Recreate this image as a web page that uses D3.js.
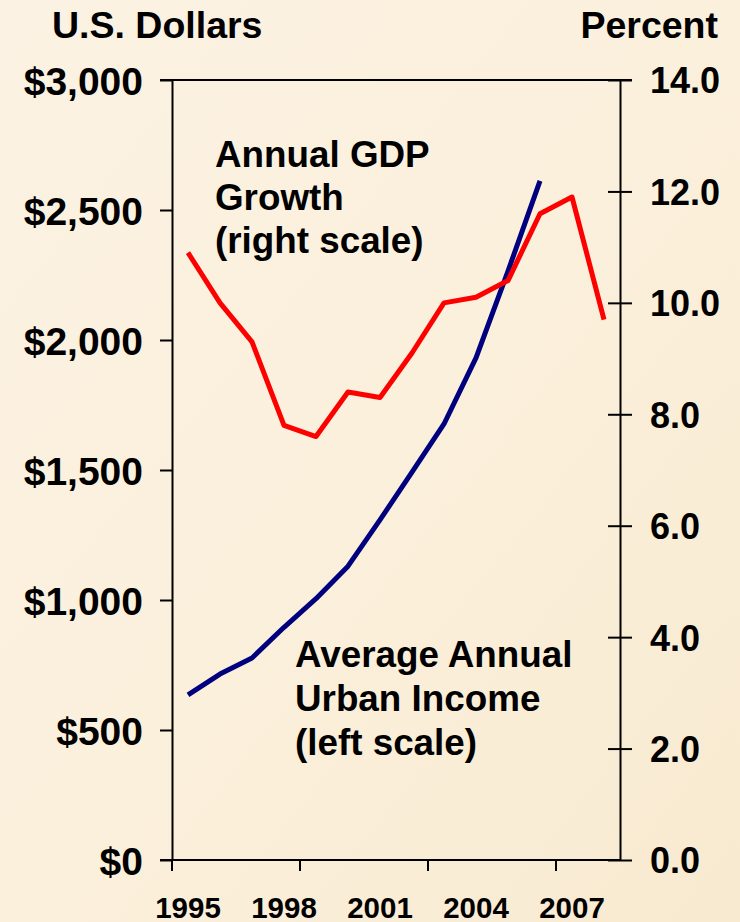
<!DOCTYPE html>
<meta charset="utf-8">
<style>
  body { margin: 0; background: #fbefd9; }
  svg { display: block; }
  text { font-family: "Liberation Sans", Arial, sans-serif; font-weight: bold; fill: #000; }
</style>
<body>
<div id="chart"></div>
<script src="https://d3js.org/d3.v7.min.js"></script>
<script>
  // data
  var years = [1995, 1996, 1997, 1998, 1999, 2000, 2001, 2002, 2003, 2004, 2005, 2006, 2007, 2008];
  var incomeYears = [1995, 1996, 1997, 1998, 1999, 2000, 2001, 2002, 2003, 2004, 2005, 2006];
  var income = [635, 715, 777, 895, 1005, 1130, 1308, 1492, 1677, 1931, 2265, 2612];
  var gdpGrowth = [10.9, 10.0, 9.3, 7.8, 7.6, 8.4, 8.3, 9.1, 10.0, 10.1, 10.4, 11.6, 11.9, 9.7];
  var yearLabels = [1995, 1998, 2001, 2004, 2007];
  var yearTicks = [1995, 1999, 2003, 2007];
  var leftTicks = [0, 500, 1000, 1500, 2000, 2500, 3000];
  var rightTicks = [0, 2, 4, 6, 8, 10, 12, 14];

  var width = 740, height = 922;
  var plotLeft = 172, plotRight = 620, plotTop = 80, plotBottom = 860;

  var svg = d3.select("#chart").append("svg")
    .attr("width", width)
    .attr("height", height);

  var defs = svg.append("defs");
  var grad = defs.append("linearGradient").attr("id", "bg")
    .attr("x1", "0").attr("y1", "0").attr("x2", "1").attr("y2", "1");
  grad.append("stop").attr("offset", "0").attr("stop-color", "#fcf2e3");
  grad.append("stop").attr("offset", "0.5").attr("stop-color", "#fbf0dc");
  grad.append("stop").attr("offset", "1").attr("stop-color", "#f8ead0");
  svg.append("rect").attr("width", width).attr("height", height).attr("fill", "url(#bg)");

  var x = d3.scaleBand().domain(years).range([plotLeft, plotRight]).padding(0);
  var cx = d => x(d) + x.bandwidth() / 2;
  var yL = d3.scaleLinear().domain([0, 3000]).range([plotBottom, plotTop]);
  var yR = d3.scaleLinear().domain([0, 14]).range([plotBottom, plotTop]);

  // plot frame top line
  svg.append("line")
    .attr("x1", plotLeft - 12).attr("x2", plotRight + 12)
    .attr("y1", plotTop).attr("y2", plotTop)
    .attr("stroke", "#000").attr("stroke-width", 2);

  var axL = svg.append("g")
    .attr("transform", "translate(" + plotLeft + ",0)")
    .call(d3.axisLeft(yL).tickValues(leftTicks).tickSizeInner(12).tickSizeOuter(0).tickPadding(17)
      .tickFormat(d => "$" + d3.format(",")(d)));
  axL.selectAll("text").style("font-size", "39px").attr("dy", "0.36em");

  var axR = svg.append("g")
    .attr("transform", "translate(" + plotRight + ",0)")
    .call(d3.axisRight(yR).tickValues(rightTicks).tickSizeInner(12).tickSizeOuter(0).tickPadding(18)
      .tickFormat(d3.format(".1f")));
  axR.selectAll(".tick line").attr("x1", -12);
  axR.selectAll("text").style("font-size", "36px").attr("dy", "0.36em");

  var axB = svg.append("g")
    .attr("transform", "translate(0," + plotBottom + ")")
    .call(d3.axisBottom(x).tickValues(yearLabels).tickSize(0).tickPadding(37).tickFormat(d3.format("d")));
  axB.select(".domain").remove();
  axB.selectAll("text").style("font-size", "29.5px").attr("dy", "0.71em");

  svg.append("line")
    .attr("x1", plotLeft - 12).attr("x2", plotRight)
    .attr("y1", plotBottom).attr("y2", plotBottom)
    .attr("stroke", "#000").attr("stroke-width", 2);

  svg.append("g").selectAll("line")
    .data(yearTicks)
    .join("line")
    .attr("x1", d => x(d)).attr("x2", d => x(d))
    .attr("y1", plotBottom).attr("y2", plotBottom + 11)
    .attr("stroke", "#000").attr("stroke-width", 2);

  svg.selectAll(".domain, .tick line").attr("stroke", "#000").attr("stroke-width", 2);

  var lineIncome = d3.line().x((d, i) => cx(incomeYears[i])).y(d => yL(d));
  var lineGdp = d3.line().x((d, i) => cx(years[i])).y(d => yR(d));

  svg.append("path")
    .attr("d", lineIncome(income))
    .attr("fill", "none").attr("stroke", "#00007f").attr("stroke-width", 5)
    .attr("stroke-linejoin", "round");

  svg.append("path")
    .attr("d", lineGdp(gdpGrowth))
    .attr("fill", "none").attr("stroke", "#ff0000").attr("stroke-width", 5)
    .attr("stroke-linejoin", "round");

  // axis titles
  svg.append("text").attr("x", 52).attr("y", 38).style("font-size", "37.5px").text("U.S. Dollars");
  svg.append("text").attr("x", 718).attr("y", 38).attr("text-anchor", "end").style("font-size", "37.5px").text("Percent");

  // series annotations
  var gdpNote = svg.append("text").attr("x", 215).attr("y", 167).style("font-size", "36.8px");
  ["Annual GDP", "Growth", "(right scale)"].forEach((t, i) =>
    gdpNote.append("tspan").attr("x", 215).attr("dy", i ? 43 : 0).text(t));

  var incNote = svg.append("text").attr("x", 295).attr("y", 667).style("font-size", "36.8px");
  ["Average Annual", "Urban Income", "(left scale)"].forEach((t, i) =>
    incNote.append("tspan").attr("x", 295).attr("dy", i ? 44 : 0).text(t));
</script>
</body>
